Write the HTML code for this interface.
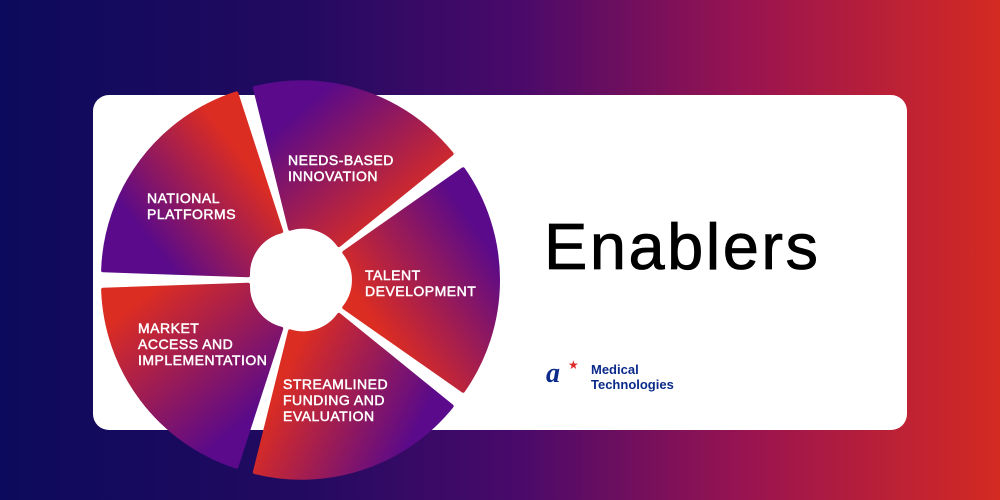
<!DOCTYPE html>
<html><head><meta charset="utf-8"><style>
body{margin:0;width:1000px;height:500px;overflow:hidden;font-family:"Liberation Sans",sans-serif;}
.bg{position:absolute;inset:0;background:linear-gradient(90deg,#0c0a5c 0%,#220a60 30%,#4a0a6a 52%,#9a1450 75%,#d42a22 100%);}
.card{position:absolute;left:93px;top:95px;width:814px;height:335px;background:#fff;border-radius:16px;}
.t{position:absolute;left:544px;top:209px;font-size:65px;color:#000;letter-spacing:2.5px;-webkit-text-stroke:0.8px #000;}
.logo{position:absolute;left:591px;top:362px;color:#0b2a8a;font-weight:bold;font-size:13px;line-height:15px;}
.a{position:absolute;left:546px;top:358px;color:#0b2a8a;font:italic bold 28px "Liberation Serif",serif;}
.st{position:absolute;left:568px;top:358px;color:#e02a2a;font-size:12px;}
svg{position:absolute;left:0;top:0}
</style></head><body>
<div class="bg"></div>
<div class="card"></div>
<div class="t">Enablers</div>
<div class="a">a</div><div class="st">★</div>
<div class="logo">Medical<br>Technologies</div>
<svg width="1000" height="500" viewBox="0 0 1000 500">
<defs>
<linearGradient id="g1" x1="1" y1="0.1" x2="0" y2="0.9"><stop offset="0.25" stop-color="#dc2d22"/><stop offset="0.8" stop-color="#5a0a8a"/></linearGradient>
<linearGradient id="g2" x1="0" y1="0" x2="1" y2="1"><stop offset="0.2" stop-color="#5a0a8a"/><stop offset="0.8" stop-color="#dc2d22"/></linearGradient>
<linearGradient id="g3" x1="1" y1="0" x2="0" y2="1"><stop offset="0.2" stop-color="#5a0a8a"/><stop offset="0.75" stop-color="#dc2d22"/></linearGradient>
<linearGradient id="g4" x1="0" y1="0.3" x2="1" y2="0.7"><stop offset="0.15" stop-color="#dc2d22"/><stop offset="0.85" stop-color="#5a0a8a"/></linearGradient>
<linearGradient id="g5" x1="0" y1="0" x2="0.8" y2="1"><stop offset="0.15" stop-color="#dc2d22"/><stop offset="0.85" stop-color="#5a0a8a"/></linearGradient>
</defs>
<g id="pie"></g>
<g fill="#fff" stroke="#fff" stroke-width="0.5" font-family="Liberation Sans,sans-serif" font-size="14" letter-spacing="0.5">
<text x="147" y="203">NATIONAL</text><text x="147" y="219">PLATFORMS</text>
<text x="288" y="165">NEEDS-BASED</text><text x="288" y="181">INNOVATION</text>
<text x="365" y="280">TALENT</text><text x="365" y="296">DEVELOPMENT</text>
<text x="138" y="333">MARKET</text><text x="138" y="349">ACCESS AND</text><text x="138" y="365">IMPLEMENTATION</text>
<text x="283" y="389">STREAMLINED</text><text x="283" y="405">FUNDING AND</text><text x="283" y="421">EVALUATION</text>
</g>
</svg>
<script>
(function(){
var cx=300,cy=280,R=195,r=44,g=document.getElementById('pie');
var segs=[[180,254,'g1'],[254,323,'g2'],[323,397,'g3'],[37,106,'g4'],[106,180,'g5']];
var s='';
segs.forEach(function(a){
 var m=(a[0]+a[1])/2*Math.PI/180,ox=cx+5*Math.cos(m),oy=cy+5*Math.sin(m);
 var a0=(a[0]+2)*Math.PI/180,a1=(a[1]-2)*Math.PI/180;
 function p(rr,t){return (ox+rr*Math.cos(t)).toFixed(1)+' '+(oy+rr*Math.sin(t)).toFixed(1);}
 s+='<path fill="url(#'+a[2]+')" stroke="url(#'+a[2]+')" stroke-width="4" stroke-linejoin="round" d="M'+p(r+4,a0)+' L'+p(R-2,a0)+' A'+(R-2)+' '+(R-2)+' 0 0 1 '+p(R-2,a1)+' L'+p(r+4,a1)+' A'+r+' '+r+' 0 0 0 '+p(r+4,a0)+'Z"/>';
});
s+='<circle cx="300" cy="280" r="44" fill="#fff"/>';
g.innerHTML=s;
})();
</script>
</body></html>
